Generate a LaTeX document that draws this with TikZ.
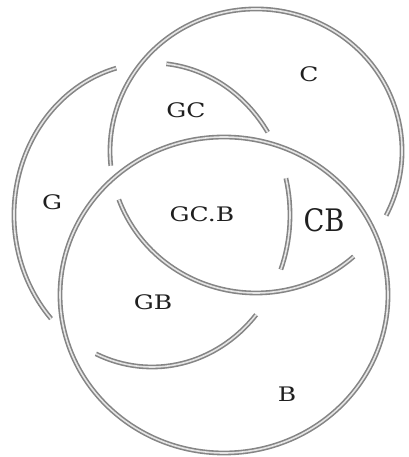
\documentclass[tikz,border=0pt]{standalone}
\usepackage{fontspec}
\setmainfont{DejaVu Serif}
\usepackage{tikz}
\usetikzlibrary{positioning}

\tikzset{
  ring/.style={draw=black!48, double=black!10, double distance=1.6pt, line width=1.6pt},
  lbl/.style={font=\fontsize{20}{22}\selectfont, text=black!88, xscale=1.25, transform shape},
  biglbl/.style={font=\fontsize{31}{33}\selectfont, text=black!88, xscale=0.88, transform shape},
}

\begin{document}
\begin{tikzpicture}[x=1pt,y=1pt]
  \useasboundingbox (0,0) rectangle (408,457);
  % B is whole, it passes over the other two
  \draw[ring] (224,162) ellipse [x radius=164, y radius=158];
  % C is cut where B goes over it
  \foreach \a/\b in {-27/186, 200/312}
    \draw[ring] (256,306) ++(\a:146 and 142)
      arc [start angle=\a, end angle=\b, x radius=146, y radius=142];
  % G goes under B and C
  \foreach \a/\b in {105/223, 33/84, -21/14, -114/-41}
    \draw[ring] (152,242) ++(\a:138 and 152)
      arc [start angle=\a, end angle=\b, x radius=138, y radius=152];

  \node[lbl] (g) at (52,255) {G};
  \node[lbl] (gc) at (186,347) {GC};
  \node[lbl] (c) at (309,383) {C};
  \node[lbl] (gcb) at (202,243) {GC.B};
  \node[biglbl] (cb) at (324,237) {CB};
  \node[lbl] (gb) at (153,155) {GB};
  \node[lbl] (b) at (287,63) {B};
\end{tikzpicture}
\end{document}
